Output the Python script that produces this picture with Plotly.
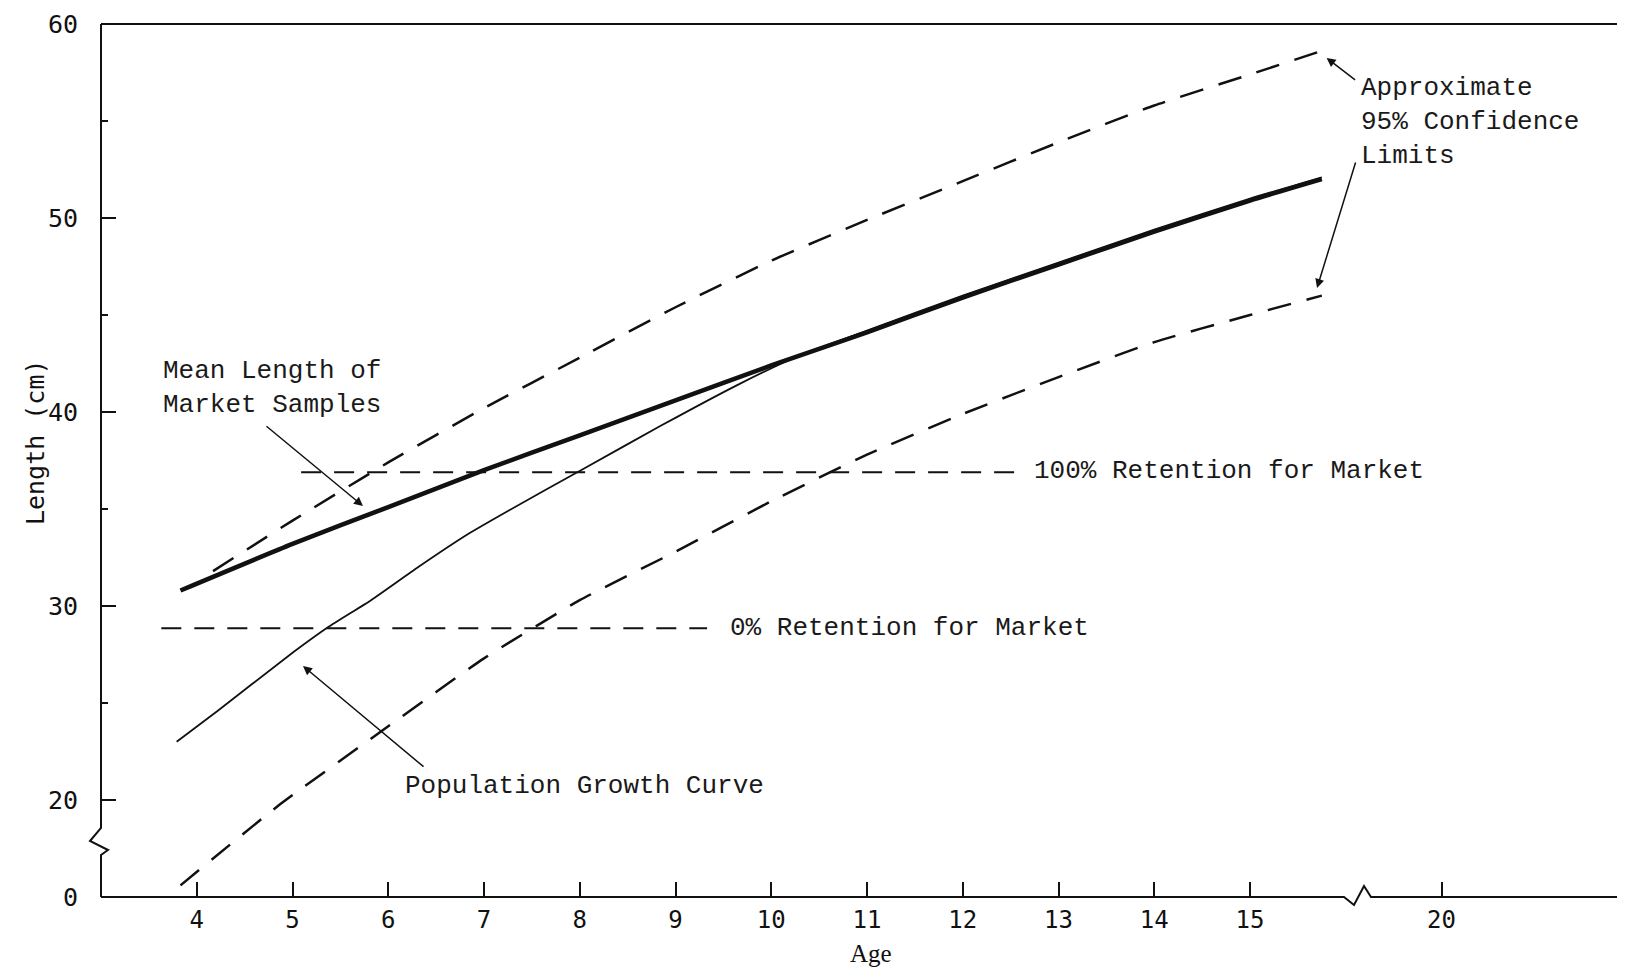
import plotly.graph_objects as go

# ---- data (display coordinates: y=15 is the broken-axis "0", x=17 is the broken-axis "20") ----
mean_age = [3.83, 5.0, 6.0, 7.0, 8.0, 9.0, 10.0, 11.0, 12.0, 13.0, 14.0, 15.0, 15.75]
mean_len = [30.8, 33.2, 35.1, 37.0, 38.8, 40.6, 42.4, 44.1, 45.9, 47.6, 49.3, 50.9, 52.0]

growth_age = [3.79, 4.22, 4.95, 5.37, 5.82, 6.31, 6.83, 7.25, 8.05, 8.85, 9.65, 10.29, 11.0, 12.0, 13.0, 14.0, 15.0, 15.75]
growth_len = [23.0, 24.6, 27.4, 28.9, 30.3, 32.0, 33.7, 34.9, 37.1, 39.3, 41.4, 42.9, 44.2, 46.0, 47.7, 49.4, 51.0, 52.1]

upper_age = [4.17, 5.0, 6.0, 7.0, 8.0, 9.0, 10.0, 11.0, 12.0, 13.0, 14.0, 15.0, 15.8]
upper_len = [31.8, 34.4, 37.4, 40.2, 42.8, 45.4, 47.8, 49.9, 51.9, 53.9, 55.8, 57.4, 58.7]

lower_age = [3.83, 4.85, 6.0, 7.0, 8.0, 9.0, 10.0, 11.0, 12.0, 13.0, 14.0, 15.0, 15.75]
lower_len = [15.6, 19.7, 23.8, 27.3, 30.3, 32.8, 35.4, 37.8, 39.9, 41.8, 43.6, 45.0, 46.0]

ret100_age = [5.09, 12.57]
ret100_len = [36.9, 36.9]
ret0_age = [3.63, 9.33]
ret0_len = [28.85, 28.85]

x_tickvals = [4, 5, 6, 7, 8, 9, 10, 11, 12, 13, 14, 15, 17]
x_ticktext = ["4", "5", "6", "7", "8", "9", "10", "11", "12", "13", "14", "15", "20"]
y_tickvals = [15, 20, 30, 40, 50, 60]
y_ticktext = ["0", "20", "30", "40", "50", "60"]
y_minor = [25, 35, 45, 55]

INK = "#111111"
MONO = "Liberation Mono"
TICKF = "DejaVu Sans Mono"

fig = go.Figure()
fig.add_trace(go.Scatter(x=upper_age, y=upper_len, mode="lines",
                         line=dict(color=INK, width=2.5, dash="24px,16px", shape="spline", smoothing=0.5)))
fig.add_trace(go.Scatter(x=lower_age, y=lower_len, mode="lines",
                         line=dict(color=INK, width=2.5, dash="24px,16px", shape="spline", smoothing=0.5)))
fig.add_trace(go.Scatter(x=ret100_age, y=ret100_len, mode="lines",
                         line=dict(color=INK, width=2, dash="20px,13px")))
fig.add_trace(go.Scatter(x=ret0_age, y=ret0_len, mode="lines",
                         line=dict(color=INK, width=2, dash="20px,13px")))
fig.add_trace(go.Scatter(x=growth_age, y=growth_len, mode="lines",
                         line=dict(color=INK, width=1.8, shape="spline", smoothing=0.5)))
fig.add_trace(go.Scatter(x=mean_age, y=mean_len, mode="lines",
                         line=dict(color=INK, width=4.5, shape="spline", smoothing=0.5)))

# axis lines with break marks (paper coords)
def px_to_paper(px, py):
    return (px - 93) / 1532.0, (889 - py) / 873.0

def path_from(points):
    pts = [px_to_paper(a, b) for a, b in points]
    return "M " + " L ".join(f"{a:.5f},{b:.5f}" for a, b in pts)

yaxis_pts = [(93, 16), (93, 820), (82, 833), (100, 842), (93, 847), (93, 889)]
xaxis_pts = [(93, 889), (1336, 889), (1346, 897), (1356, 878), (1363, 889), (1625, 889)]
top_pts = [(93, 16), (1625, 16)]
for pts, w in [(yaxis_pts, 2), (xaxis_pts, 2), (top_pts, 2)]:
    fig.add_shape(type="path", xref="paper", yref="paper", path=path_from(pts),
                  line=dict(color=INK, width=w))

tf = dict(family=MONO, size=26, color="#1a1a1a")
annos = []
# text labels
annos.append(dict(x=3.627, y=41.24, text="Mean Length of<br>Market Samples", xanchor="left",
                  yanchor="middle", align="left", showarrow=False, font=tf))
annos.append(dict(x=6.154, y=20.72, text="Population Growth Curve", xanchor="left",
                  yanchor="middle", showarrow=False, font=tf))
annos.append(dict(x=12.72, y=36.96, text="100% Retention for Market", xanchor="left",
                  yanchor="middle", showarrow=False, font=tf))
annos.append(dict(x=9.548, y=28.87, text="0% Retention for Market", xanchor="left",
                  yanchor="middle", showarrow=False, font=tf))
annos.append(dict(x=16.14, y=54.95, text="Approximate<br>95% Confidence<br>Limits", xanchor="left",
                  yanchor="middle", align="left", showarrow=False, font=tf))
# arrows
for hx, hy, ax, ay in [(5.736, 35.155, -98, -81), (5.11, 26.91, 122, 102),
                       (15.80, 58.25, 30, 23), (15.70, 46.39, 39, -127)]:
    annos.append(dict(x=hx, y=hy, ax=ax, ay=ay, text="", showarrow=True, arrowhead=2,
                      arrowsize=1.2, arrowwidth=1.5, arrowcolor=INK, standoff=0, startstandoff=0))
# axis titles
annos.append(dict(xref="paper", x=0, xshift=-66, y=38.45, text="Length (cm)", textangle=-90,
                  showarrow=False, xanchor="center", yanchor="middle",
                  font=dict(family=TICKF, size=25, color=INK)))
annos.append(dict(x=11.04, yref="paper", y=0, yshift=-56, text="Age", showarrow=False,
                  xanchor="center", yanchor="middle",
                  font=dict(family="Liberation Serif", size=25, color=INK)))

fig.update_layout(
    width=1625, height=971,
    margin=dict(l=93, r=0, t=16, b=82),
    paper_bgcolor="white", plot_bgcolor="white",
    showlegend=False,
    annotations=annos,
    xaxis=dict(range=[3, 19], tickmode="array", tickvals=x_tickvals, ticktext=x_ticktext,
               ticks="inside", ticklen=15, tickwidth=1.5, tickcolor=INK,
               showgrid=False, zeroline=False, showline=False,
               ticklabelstandoff=6, tickfont=dict(family=TICKF, size=24, color=INK)),
    yaxis=dict(range=[15, 60], tickmode="array", tickvals=y_tickvals, ticktext=y_ticktext,
               ticks="inside", ticklen=15, tickwidth=1.5, tickcolor=INK,
               minor=dict(tickmode="array", tickvals=y_minor, ticks="inside", ticklen=7,
                          tickwidth=1.5, tickcolor=INK, showgrid=False),
               showgrid=False, zeroline=False, showline=False,
               ticklabelstandoff=22, tickfont=dict(family=TICKF, size=25, color=INK)),
)

fig.write_html("out.html")
